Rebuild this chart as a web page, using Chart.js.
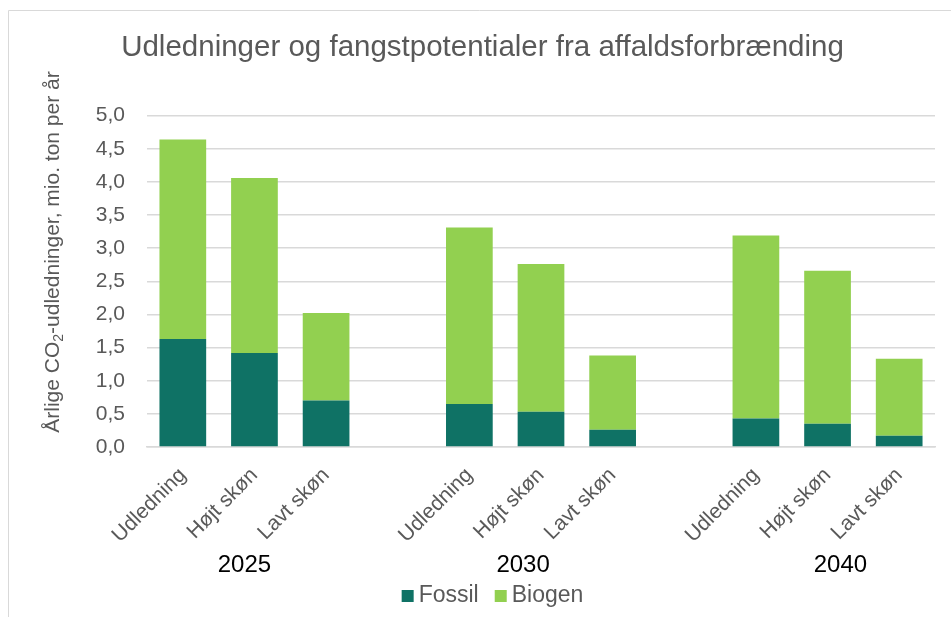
<!DOCTYPE html>
<html>
<head>
<meta charset="utf-8">
<title>Udledninger og fangstpotentialer fra affaldsforbrænding</title>
<script src="https://cdn.jsdelivr.net/npm/chart.js@4.4.1/dist/chart.umd.min.js"></script>
<style>
  html, body { margin: 0; padding: 0; background: #fff; overflow: hidden; }
  #wrap { width: 951px; height: 617px; }
</style>
</head>
<body>
<div id="wrap"><canvas id="chart"></canvas></div>
<script>
// values (mio. ton CO2 per year)
const categories = ['Udledning', 'Højt skøn', 'Lavt skøn', '', 'Udledning', 'Højt skøn', 'Lavt skøn', '', 'Udledning', 'Højt skøn', 'Lavt skøn'];
const fossil = [1.63, 1.42, 0.70, null, 0.65, 0.53, 0.26, null, 0.43, 0.35, 0.17];
const biogen = [3.01, 2.64, 1.32, null, 2.66, 2.23, 1.12, null, 2.76, 2.31, 1.16];
const years = ['2025', '2030', '2040'];
const yTickLabels = ['0,0', '0,5', '1,0', '1,5', '2,0', '2,5', '3,0', '3,5', '4,0', '4,5', '5,0'];

// where the year labels sit, in category units
const yearAt = [0.86, 4.75, 9.18];

const FONT = '"Liberation Sans", Arial, sans-serif';
const GREY = '#595959';
Chart.defaults.font.family = FONT;

// frame, year row, axis title and legend
const extras = {
  id: 'extras',
  beforeDraw(chart) {
    const ctx = chart.ctx;
    ctx.save();
    ctx.strokeStyle = '#D9D9D9';
    ctx.lineWidth = 1;
    ctx.beginPath();
    ctx.moveTo(8.5, chart.height);
    ctx.lineTo(8.5, 10.5);
    ctx.lineTo(chart.width, 10.5);
    ctx.stroke();
    ctx.restore();
  },
  afterDraw(chart) {
    const ctx = chart.ctx;
    const xs = chart.scales.x;
    ctx.save();

    // years under the groups
    ctx.font = '24px ' + FONT;
    ctx.fillStyle = '#000';
    ctx.textAlign = 'center';
    ctx.textBaseline = 'middle';
    years.forEach((y, i) => ctx.fillText(y, xs.getPixelForValue(yearAt[i]), 565));

    // y axis title with subscript 2
    const parts = [
      { t: 'Årlige CO', size: 21, dy: 0 },
      { t: '2', size: 14, dy: 6 },
      { t: '-udledninger, mio. ton per år', size: 21, dy: 0 }
    ];
    let total = 0;
    parts.forEach(p => { ctx.font = p.size + 'px ' + FONT; p.w = ctx.measureText(p.t).width; total += p.w; });
    ctx.save();
    ctx.translate(53, 252);
    ctx.rotate(-Math.PI / 2);
    ctx.fillStyle = GREY;
    ctx.textAlign = 'left';
    let px = -total / 2;
    parts.forEach(p => {
      ctx.font = p.size + 'px ' + FONT;
      ctx.fillText(p.t, px, p.dy);
      px += p.w;
    });
    ctx.restore();

    // legend
    ctx.font = '23px ' + FONT;
    ctx.textAlign = 'left';
    const box = 12, gap = 5, space = 16;
    const items = chart.data.datasets.map(d => ({ label: d.label, color: d.backgroundColor, w: ctx.measureText(d.label).width }));
    let lw = items.reduce((s, it) => s + box + gap + it.w, 0) + space * (items.length - 1);
    let lx = 492.5 - lw / 2;
    const ly = 596;
    items.forEach(it => {
      ctx.fillStyle = it.color;
      ctx.fillRect(lx, ly - box / 2, box, box);
      ctx.fillStyle = GREY;
      ctx.fillText(it.label, lx + box + gap, ly);
      lx += box + gap + it.w + space;
    });

    ctx.restore();
  }
};

new Chart(document.getElementById('chart'), {
  type: 'bar',
  data: {
    labels: categories,
    datasets: [
      { label: 'Fossil', data: fossil, backgroundColor: '#0F7265', barPercentage: 0.652, categoryPercentage: 1 },
      { label: 'Biogen', data: biogen, backgroundColor: '#92D050', barPercentage: 0.652, categoryPercentage: 1 }
    ]
  },
  options: {
    responsive: true,
    maintainAspectRatio: false,
    animation: false,
    layout: { padding: { left: 30, right: 16, top: 0, bottom: 60 } },
    plugins: {
      legend: { display: false },
      tooltip: { enabled: false },
      title: {
        display: true,
        text: 'Udledninger og fangstpotentialer fra affaldsforbrænding',
        color: GREY,
        font: { size: 29.5, weight: 'normal', lineHeight: 1.2 },
        padding: { top: 30, bottom: 50.2 }
      }
    },
    scales: {
      x: {
        stacked: true,
        grid: { display: false, drawTicks: false },
        border: { display: true, color: '#D9D9D9', width: 1.5 },
        ticks: { autoSkip: false, minRotation: 45, maxRotation: 45, padding: 16, color: GREY, font: { size: 21 } },
        afterFit(scale) { scale.height = 110; }
      },
      y: {
        stacked: true,
        min: 0,
        max: 5,
        grid: { color: '#D9D9D9', lineWidth: 1.5, drawTicks: false },
        border: { display: false },
        ticks: { stepSize: 0.5, padding: 22, color: GREY, font: { size: 21 }, callback: (v, i) => yTickLabels[i] },
        afterFit(scale) { scale.width = 117; }
      }
    }
  },
  plugins: [extras]
});
</script>
</body>
</html>
